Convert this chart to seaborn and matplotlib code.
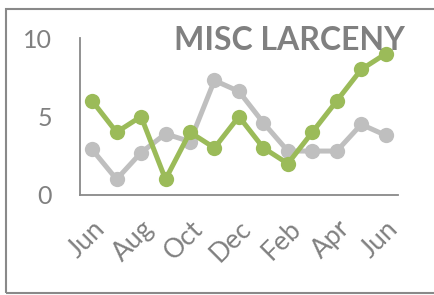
import matplotlib.pyplot as plt
import pandas as pd
import seaborn as sns
from matplotlib.patches import Rectangle

months = ["Jun", "Jul", "Aug", "Sep", "Oct", "Nov", "Dec",
          "Jan", "Feb", "Mar", "Apr", "May", "Jun"]
current = [6, 4, 5, 1, 4, 3, 5, 3, 2, 4, 6, 8, 9]
previous = [2.9, 1.0, 2.7, 3.9, 3.4, 7.3, 6.6, 4.6, 2.8, 2.8, 2.8, 4.5, 3.8]
tick_labels = ["Jun", "Aug", "Oct", "Dec", "Feb", "Apr", "Jun"]

sns.set_style("white")
plt.rcParams['font.family'] = ['Lato', 'DejaVu Sans']
text_grey = "#808080"

df = pd.DataFrame({"idx": range(len(months)), "current": current,
                   "previous": previous})

fig = plt.figure(figsize=(4.34, 2.95), dpi=100)
ax = fig.add_axes([0.184, 0.339, 0.733, 0.532])

sns.lineplot(data=df, x="idx", y="previous", color="#BFBFBF", lw=3.6,
             marker="o", markersize=11, markeredgewidth=0, ax=ax)
sns.lineplot(data=df, x="idx", y="current", color="#9BBB59", lw=3.6,
             marker="o", markersize=11, markeredgewidth=0, ax=ax)

ax.set_xlim(-0.5, 12.5)
ax.set_ylim(0, 10)
ax.set_yticks([0, 5, 10])
ax.set_xticks(range(0, 13, 2))
ax.set_xticklabels(tick_labels, rotation=45, ha="right",
                   rotation_mode="anchor")
ax.tick_params(axis="y", labelsize=18, colors=text_grey, length=0, pad=20)
ax.tick_params(axis="x", labelsize=19, colors=text_grey, length=0, pad=15)
ax.set_xlabel("")
ax.set_ylabel("")
for s in ["top", "right"]:
    ax.spines[s].set_visible(False)
for s in ["left", "bottom"]:
    ax.spines[s].set_color("#898989")
    ax.spines[s].set_linewidth(1.3)

fig.text(0.933, 0.862, "MISC LARCENY", ha="right", va="center",
         fontsize=23, fontweight="bold", color=text_grey)

fig.patches.append(Rectangle((0.014, 0.007), 1.2, 0.963,
                             transform=fig.transFigure, fill=False,
                             edgecolor="#898989", lw=1.5))

fig.savefig("out.png", dpi=100)
